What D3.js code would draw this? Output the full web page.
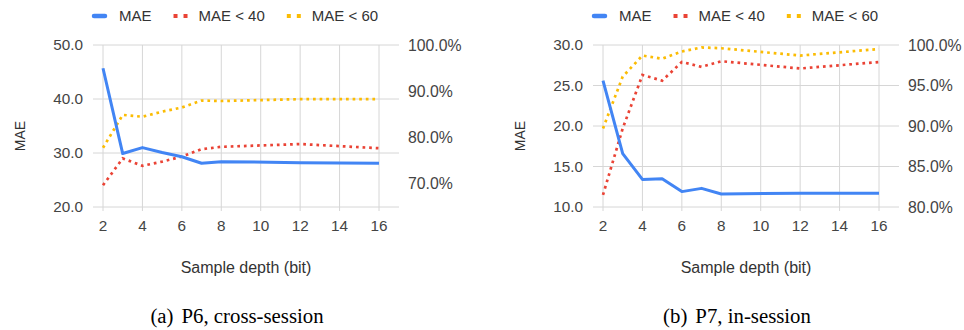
<!DOCTYPE html>
<html lang="en">
<head>
<meta charset="utf-8" />
<title>MAE vs sample depth</title>
<script src="https://cdn.jsdelivr.net/npm/d3@7"></script>
<style>
  body { margin: 0; background: #fff; }
  svg text { font-family: "Liberation Sans", Arial, sans-serif; }
  .caption { font-family: "Liberation Serif", "Times New Roman", serif; }
</style>
</head>
<body>
<div id="chart"></div>
<script>

// sample depth (bit) on the x axis
var depths = [2, 3, 4, 5, 6, 7, 8, 12, 16];
var xTicks = [2, 4, 6, 8, 10, 12, 14, 16];

// (a) P6, cross-session
var p6Mae     = [45.7, 29.9, 31.0, 30.1, 29.3, 28.1, 28.4, 28.2, 28.1];
var p6Under40 = [69.7, 75.5, 73.9, 74.8, 75.9, 77.5, 78.0, 78.6, 77.7];
var p6Under60 = [77.8, 84.9, 84.5, 85.6, 86.5, 88.0, 87.9, 88.3, 88.3];
var p6MaeTicks = [20, 30, 40, 50];
var p6PctTicks = [70, 80, 90, 100];

// (b) P7, in-session
var p7Mae     = [25.6, 16.6, 13.4, 13.5, 11.9, 12.3, 11.6, 11.7, 11.7];
var p7Under40 = [81.5, 89.7, 96.3, 95.6, 97.9, 97.3, 98.0, 97.1, 97.9];
var p7Under60 = [89.7, 96.1, 98.7, 98.3, 99.2, 99.7, 99.6, 98.7, 99.5];
var p7MaeTicks = [10, 15, 20, 25, 30];
var p7PctTicks = [80, 85, 90, 95, 100];

var seriesNames = ["MAE", "MAE < 40", "MAE < 60"];
var colors = ["#4285f4", "#ea4335", "#fbbc04"];

var svg = d3.select("#chart")
  .append("svg")
    .attr("width", 964)
    .attr("height", 330);

// one panel = legend + plot + axes + caption
function drawPanel(offset, maeVals, u40, u60, maeTicks, maeDomain, pctTicks, pctDomain, capLetter, capText) {
  var g = svg.append("g").attr("transform", "translate(" + offset + ",0)");

  var plotLeft = 93, plotRight = 399, top = 45, bottom = 207;

  var x = d3.scaleLinear().domain([2, 16]).range([plotLeft + 10, plotRight - 20]);
  var yL = d3.scaleLinear().domain(maeDomain).range([bottom, top]);
  var yR = d3.scaleLinear().domain(pctDomain).range([bottom, top]);

  // gridlines
  g.append("g").selectAll("line.v")
    .data(xTicks)
    .enter().append("line")
      .attr("x1", function(d) { return x(d); })
      .attr("x2", function(d) { return x(d); })
      .attr("y1", top)
      .attr("y2", bottom + 4)
      .attr("stroke", "#d6d6d6")
      .attr("stroke-width", 1);

  g.append("g").selectAll("line.h")
    .data(maeTicks)
    .enter().append("line")
      .attr("x1", plotLeft)
      .attr("x2", plotRight)
      .attr("y1", function(d) { return yL(d); })
      .attr("y2", function(d) { return yL(d); })
      .attr("stroke", "#d6d6d6")
      .attr("stroke-width", 1);

  // left axis labels
  g.append("g").selectAll("text")
    .data(maeTicks)
    .enter().append("text")
      .attr("x", plotLeft - 10)
      .attr("y", function(d) { return yL(d); })
      .attr("dy", "0.35em")
      .attr("text-anchor", "end")
      .attr("fill", "#444")
      .style("font-size", "15.3px")
      .text(function(d) { return d3.format(".1f")(d); });

  // right axis labels
  g.append("g").selectAll("text")
    .data(pctTicks)
    .enter().append("text")
      .attr("x", plotRight + 9)
      .attr("y", function(d) { return yR(d); })
      .attr("dy", "0.35em")
      .attr("fill", "#444")
      .style("font-size", "15.8px")
      .text(function(d) { return d3.format(".1f")(d) + "%"; });

  // x labels
  g.append("g").selectAll("text")
    .data(xTicks)
    .enter().append("text")
      .attr("x", function(d) { return x(d); })
      .attr("y", 226)
      .attr("dy", "0.35em")
      .attr("text-anchor", "middle")
      .attr("fill", "#444")
      .style("font-size", "15.3px")
      .text(function(d) { return d; });

  // axis titles
  g.append("text")
    .attr("transform", "translate(20,136) rotate(-90)")
    .attr("dy", "0.35em")
    .attr("text-anchor", "middle")
    .attr("fill", "#333")
    .style("font-size", "14px")
    .text("MAE");

  g.append("text")
    .attr("x", (plotLeft + plotRight) / 2)
    .attr("y", 267)
    .attr("dy", "0.35em")
    .attr("text-anchor", "middle")
    .attr("fill", "#333")
    .style("font-size", "16px")
    .text("Sample depth (bit)");

  // the lines
  var lineL = d3.line()
    .x(function(d, i) { return x(depths[i]); })
    .y(function(d) { return yL(d); });
  var lineR = d3.line()
    .x(function(d, i) { return x(depths[i]); })
    .y(function(d) { return yR(d); });

  g.append("path")
    .datum(u60)
    .attr("fill", "none")
    .attr("stroke", colors[2])
    .attr("stroke-width", 2.7)
    .attr("stroke-dasharray", "2.7,3.9")
    .attr("d", lineR);

  g.append("path")
    .datum(u40)
    .attr("fill", "none")
    .attr("stroke", colors[1])
    .attr("stroke-width", 2.7)
    .attr("stroke-dasharray", "2.7,3.9")
    .attr("d", lineR);

  g.append("path")
    .datum(maeVals)
    .attr("fill", "none")
    .attr("stroke", colors[0])
    .attr("stroke-width", 3)
    .attr("stroke-linejoin", "round")
    .attr("d", lineL);

  // legend
  var lx = 92, ly = 16;
  seriesNames.forEach(function(name, i) {
    if (i === 0) {
      g.append("line")
        .attr("x1", lx + 2).attr("x2", lx + 13)
        .attr("y1", ly).attr("y2", ly)
        .attr("stroke", colors[i])
        .attr("stroke-width", 4.5)
        .attr("stroke-linecap", "round");
    } else {
      g.append("rect").attr("x", lx + 2).attr("y", ly - 2).attr("width", 4).attr("height", 4).attr("fill", colors[i]);
      g.append("rect").attr("x", lx + 12).attr("y", ly - 2).attr("width", 4).attr("height", 4).attr("fill", colors[i]);
    }
    var t = g.append("text")
      .attr("x", lx + 27)
      .attr("y", ly)
      .attr("dy", "0.35em")
      .attr("fill", "#333")
      .style("font-size", "15px")
      .text(name);
    lx = lx + 27 + t.node().getComputedTextLength() + 20;
  });

  // caption
  var cap = g.append("text")
    .attr("class", "caption")
    .attr("x", 237)
    .attr("y", 323)
    .attr("text-anchor", "middle")
    .attr("fill", "#000")
    .style("font-size", "20.8px");
  cap.append("tspan").text("(" + capLetter + ")");
  cap.append("tspan").attr("dx", 8).text(capText);
}

drawPanel(0, p6Mae, p6Under40, p6Under60, p6MaeTicks, [20, 50], p6PctTicks, [65, 100], "a", "P6, cross-session");
drawPanel(500, p7Mae, p7Under40, p7Under60, p7MaeTicks, [10, 30], p7PctTicks, [80, 100], "b", "P7, in-session");

</script>
</body>
</html>
